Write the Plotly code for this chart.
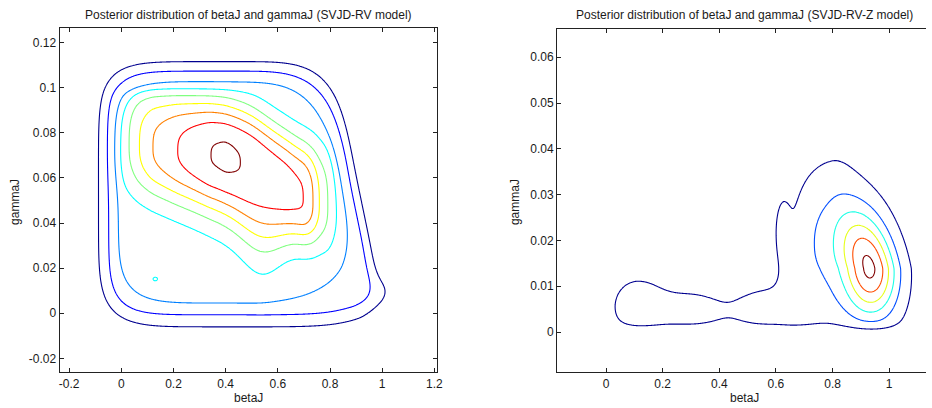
import numpy as np
import plotly.graph_objects as go

# ---------------- data ----------------
# Left panel (SVJD-RV model): density in contour-level units.
# Lower plateau: three nested soft rounded boxes (outer, 2nd, 3rd contour).
L_center = (0.42, 0.052)
L_box_axl = [0.507, 0.469, 0.432]
L_box_axr = [0.494, 0.469, 0.424]
L_box_ayb = [0.058, 0.0527, 0.0475]
L_box_ayt = [0.0595, 0.0555, 0.0505]
L_box_p_tl = [6.0, 6.5, 5.5]
L_box_p_bl = [5.5, 6.0, 5.0]
L_box_p_tr = [4.5, 4.0, 3.6]
L_box_p_br = [5.0, 5.0, 2.7]
L_shear = 1.8
# Upper mound: ridge amplitude, centre line and spreads along betaJ
L_amp_x = [-0.07, -0.015, 0.03, 0.068, 0.118, 0.215, 0.338, 0.40, 0.458, 0.55, 0.63, 0.705, 0.737, 0.756, 0.793, 0.82, 0.87]
L_amp_v = [0.0, 0.5, 1.5, 2.5, 3.5, 4.5, 5.5, 5.65, 5.5, 5.15, 4.95, 4.5, 3.5, 2.5, 1.5, 0.5, 0.0]
L_ctr_x = [-0.10, 0.20, 0.40, 0.50, 0.60, 0.70, 0.80, 0.90]
L_ctr_y = [0.076, 0.072, 0.069, 0.065, 0.057, 0.050, 0.047, 0.045]
L_sd_x = [-0.10, 0.10, 0.30, 0.43, 0.50, 0.53, 0.58, 0.65, 0.75, 0.90]
L_sd_v = [0.014, 0.016, 0.0185, 0.021, 0.025, 0.0265, 0.022, 0.015, 0.014, 0.014]
L_su_x = [-0.10, 0.30, 0.60, 0.90]
L_su_v = [0.020, 0.020, 0.020, 0.020]
L_top_cut = 0.0995
# free bumps: bottom-right bulge, small local peak near (0.13, 0.015)
L_free_cx = [0.97, 0.13]
L_free_cy = [0.0095, 0.0152]
L_free_sx = [0.06, 0.013]
L_free_sy = [0.0065, 0.0012]
L_free_w = [0.6, 0.62]
L_levels = [0.5, 8.5, 1.0]

# Right panel (SVJD-RV-Z model): sum of bumps
R_cx = [0.933, 0.80, 0.11, 0.30, 0.56, 0.73, 0.655, 0.625, 0.85, 0.70]
R_cy = [0.0139, 0.018, 0.0055, 0.0045, 0.0048, 0.022, 0.012, 0.022, 0.005, 0.006]
R_sxl = [0.065, 0.09, 0.068, 0.09, 0.09, 0.05, 0.03, 0.018, 0.07, 0.06]
R_sxr = [0.066, 0.06, 0.075, 0.09, 0.09, 0.05, 0.03, 0.018, 0.07, 0.06]
R_syb = [0.0072, 0.008, 0.0048, 0.0036, 0.004, 0.008, 0.005, 0.0045, 0.004, 0.005]
R_syt = [0.0088, 0.012, 0.0048, 0.0036, 0.004, 0.008, 0.005, 0.0045, 0.004, 0.005]
R_shear_t = [3.0, 0, 0, 0, 0, 0, 0, 0, 0, 0]
R_shear_b = [1.0, 0, 0, 0, 0, 0, 0, 0, 0, 0]
R_w = [5.6, 1.4, 0.95, 0.8, 0.8, 0.33, 0.45, 0.9, 0.4, 0.5]
R_floor = 0.0008
R_levels = [0.5, 5.5, 1.0]

L_xticks = [-0.2, 0, 0.2, 0.4, 0.6, 0.8, 1, 1.2]
L_xtext = ["-0.2", "0", "0.2", "0.4", "0.6", "0.8", "1", "1.2"]
L_yticks = [-0.02, 0, 0.02, 0.04, 0.06, 0.08, 0.1, 0.12]
L_ytext = ["-0.02", "0", "0.02", "0.04", "0.06", "0.08", "0.1", "0.12"]
R_xticks = [0, 0.2, 0.4, 0.6, 0.8, 1]
R_xtext = ["0", "0.2", "0.4", "0.6", "0.8", "1"]
R_yticks = [0, 0.01, 0.02, 0.03, 0.04, 0.05, 0.06]
R_ytext = ["0", "0.01", "0.02", "0.03", "0.04", "0.05", "0.06"]

titles = ["Posterior distribution of betaJ and gammaJ (SVJD-RV model)",
          "Posterior distribution of betaJ and gammaJ (SVJD-RV-Z model)"]
xlabel = "betaJ"
ylabel = "gammaJ"


# ---------------- surface construction ----------------
def sig(t):
    return 1.0 / (1.0 + np.exp(-t))


def soft_box(X, Y, cx, cy, axl, axr, ayb, ayt, ptl, pbl, ptr, pbr, shear, s):
    dx0 = X - cx
    dy = Y - cy
    ramp = np.clip(dx0 / axr, 0, 1)
    dx = dx0 + shear * dy * ramp
    u = np.where(dx < 0, -dx / axl, dx / axr)
    v = np.where(dy < 0, -dy / ayb, dy / ayt)
    p = np.where(dx < 0, np.where(dy < 0, pbl, ptl), np.where(dy < 0, pbr, ptr))
    r = (np.abs(u) ** p + np.abs(v) ** p) ** (1.0 / p)
    return sig((1 - r) / s)


def bump(X, Y, cx, cy, sxl, sxr, syb, syt, w, kt=0.0, kb=0.0):
    dy = Y - cy
    dx = X - cx + np.where(dy > 0, kt, kb) * dy
    sx = np.where(dx < 0, sxl, sxr)
    sy = np.where(dy < 0, syb, syt)
    return w * np.exp(-0.5 * ((dx / sx) ** 2 + (dy / sy) ** 2))


def smooth_profile(xg, kx, kv, width):
    prof = np.interp(xg, kx, kv)
    dxg = xg[1] - xg[0]
    n = int(3 * width / dxg)
    t = np.arange(-n, n + 1) * dxg
    ker = np.exp(-0.5 * (t / width) ** 2)
    ker /= ker.sum()
    padded = np.concatenate([np.full(n, prof[0]), prof, np.full(n, prof[-1])])
    return np.convolve(padded, ker, mode="valid")


Lx = np.linspace(-0.237, 1.209, 400)
Ly = np.linspace(-0.0262, 0.1264, 380)
LX, LY = np.meshgrid(Lx, Ly)
LZ = np.zeros_like(LX)
for k in range(3):
    LZ += soft_box(LX, LY, L_center[0], L_center[1], L_box_axl[k], L_box_axr[k],
                   L_box_ayb[k], L_box_ayt[k], L_box_p_tl[k], L_box_p_bl[k],
                   L_box_p_tr[k], L_box_p_br[k], L_shear, 0.02)

amp = smooth_profile(Lx, L_amp_x, L_amp_v, 0.012)
ctr = smooth_profile(Lx, L_ctr_x, L_ctr_y, 0.03)
sdn = smooth_profile(Lx, L_sd_x, L_sd_v, 0.04)
sup = smooth_profile(Lx, L_su_x, L_su_v, 0.03)
dyy = LY - ctr[None, :]
vd = np.abs(dyy) / sdn[None, :]
vu = np.abs(dyy) / sup[None, :]
prof = np.where(dyy < 0, np.exp(-0.5 * vd ** 2.5), np.exp(-0.5 * vu ** 3.0))
mound = amp[None, :] * prof * sig((L_top_cut - LY) / 0.0016)
LZ += mound
for i in range(len(L_free_w)):
    LZ += bump(LX, LY, L_free_cx[i], L_free_cy[i], L_free_sx[i], L_free_sx[i],
               L_free_sy[i], L_free_sy[i], L_free_w[i])

Rx = np.linspace(-0.173, 1.13, 400)
Ry = np.linspace(-0.0088, 0.0661, 380)
RX, RY = np.meshgrid(Rx, Ry)
RZ = np.zeros_like(RX)
for i in range(len(R_w)):
    RZ += bump(RX, RY, R_cx[i], R_cy[i], R_sxl[i], R_sxr[i], R_syb[i], R_syt[i], R_w[i],
               R_shear_t[i], R_shear_b[i])
RZ *= sig((RY - R_floor) / 0.0007)

jet = [[0.0, "#00008F"], [0.125, "#0000FF"], [0.25, "#0080FF"], [0.375, "#00FFFF"],
       [0.5, "#80FF80"], [0.625, "#FFFF00"], [0.75, "#FF8000"], [0.875, "#FF0000"],
       [1.0, "#800000"]]

fig = go.Figure()
fig.add_trace(go.Contour(x=Lx, y=Ly, z=LZ, xaxis="x", yaxis="y",
                         contours=dict(start=L_levels[0], end=L_levels[1], size=L_levels[2],
                                       coloring="lines"),
                         line=dict(width=1.1, smoothing=1.0),
                         colorscale=jet, zmin=L_levels[0], zmax=L_levels[1],
                         showscale=False, hoverinfo="skip"))
fig.add_trace(go.Contour(x=Rx, y=Ry, z=RZ, xaxis="x2", yaxis="y2",
                         contours=dict(start=R_levels[0], end=R_levels[1], size=R_levels[2],
                                       coloring="lines"),
                         line=dict(width=1.1, smoothing=1.0),
                         colorscale=jet, zmin=R_levels[0], zmax=R_levels[1],
                         showscale=False, hoverinfo="skip"))

W, H = 932, 408
font = dict(family="Liberation Sans, Arial, sans-serif", size=12, color="#1a1a1a")
axis_common = dict(showgrid=False, zeroline=False, showline=True, linecolor="#222",
                   linewidth=1, ticks="inside", ticklen=4, tickcolor="#222",
                   tickfont=font)

fig.update_layout(
    width=W, height=H, autosize=False,
    margin=dict(l=0, r=0, t=0, b=0),
    paper_bgcolor="white", plot_bgcolor="white",
    showlegend=False,
    xaxis=dict(domain=[59 / W, 439 / W], range=[-0.237, 1.209], anchor="y",
               tickvals=L_xticks, ticktext=L_xtext, mirror="allticks", **axis_common),
    yaxis=dict(domain=[1 - 372.3 / H, 1 - 28.3 / H], range=[-0.0262, 0.1264], anchor="x",
               tickvals=L_yticks, ticktext=L_ytext, mirror="allticks", **axis_common),
    xaxis2=dict(domain=[560.3 / W, 1.0], range=[-0.173, 1.13], anchor="y2",
                tickvals=R_xticks, ticktext=R_xtext, mirror="allticks", **axis_common),
    yaxis2=dict(domain=[1 - 372.3 / H, 1 - 29.3 / H], range=[-0.0088, 0.0661], anchor="x2",
                tickvals=R_yticks, ticktext=R_ytext, mirror=False, **axis_common),
)

ann = [
    dict(text=titles[0], x=249 / W, y=1 - 15 / H),
    dict(text=titles[1], x=749 / W, y=1 - 15 / H),
    dict(text=xlabel, x=249 / W, y=1 - 398 / H),
    dict(text=xlabel, x=749 / W, y=1 - 398 / H),
    dict(text=ylabel, x=14 / W, y=1 - 202 / H, textangle=-90),
    dict(text=ylabel, x=518 / W, y=1 - 202 / H, textangle=-90),
]
for a in ann:
    fig.add_annotation(xref="paper", yref="paper", showarrow=False,
                       xanchor="center", yanchor="middle", font=font, **a)

fig.write_html("out.html", config={"displayModeBar": False},
               post_script="document.body.style.margin='0px';document.body.style.overflow='hidden';")
